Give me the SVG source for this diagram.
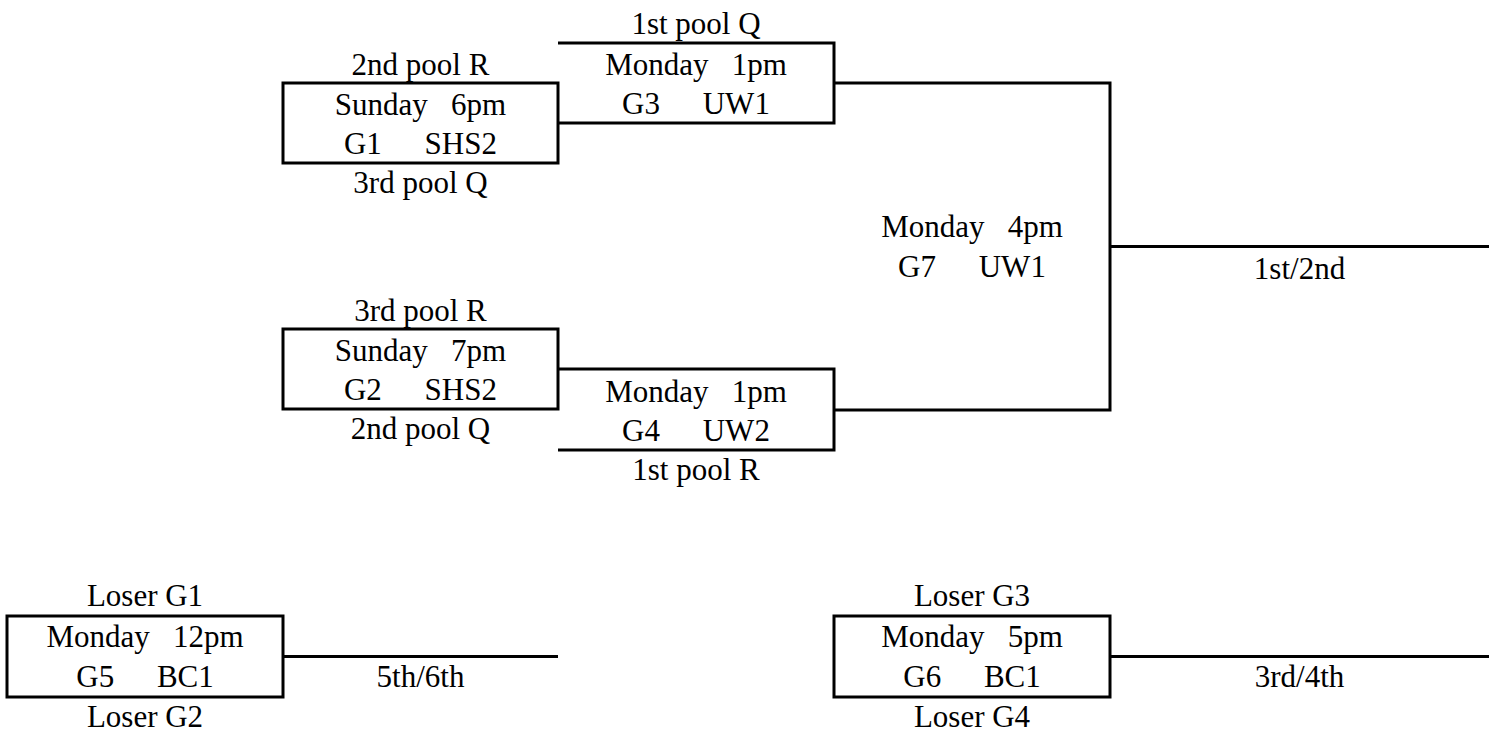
<svg xmlns="http://www.w3.org/2000/svg" width="1489" height="734" viewBox="0 0 1489 734">
<style>
  .box { fill: none; stroke: #000; stroke-width: 3; }
  .ln { fill: none; stroke: #000; stroke-width: 3; }
  text { font-family: "Liberation Serif", "Times New Roman", serif; font-size: 31px; fill: #000; text-anchor: middle; white-space: pre; }
  .t2 { word-spacing: 0.8px; }
</style>
<rect width="1489" height="734" fill="#fff"/>
<g id="connectors">
  <path class="ln" d="M834,83 H1110 V410 H834"/>
  <path class="ln" d="M1110,246.5 H1489"/>
  <path class="ln" d="M283,656.5 H558"/>
  <path class="ln" d="M1110,656.5 H1489"/>
</g>
<g id="G1">
  <rect class="box" x="283" y="83" width="275" height="80"/>
  <text x="420.5" y="75">2nd pool R</text>
  <text x="420.5" y="115" xml:space="preserve">Sunday   6pm</text>
  <text class="t2" x="420.5" y="154" xml:space="preserve">G1     SHS2</text>
  <text x="420.5" y="193">3rd pool Q</text>
</g>
<g id="G3">
  <path class="box" d="M558,43 H834 V123 H558"/>
  <text x="696" y="34">1st pool Q</text>
  <text x="696" y="75" xml:space="preserve">Monday   1pm</text>
  <text class="t2" x="696" y="114" xml:space="preserve">G3     UW1</text>
</g>
<g id="G2">
  <rect class="box" x="283" y="329" width="275" height="80"/>
  <text x="420.5" y="321">3rd pool R</text>
  <text x="420.5" y="361" xml:space="preserve">Sunday   7pm</text>
  <text class="t2" x="420.5" y="400" xml:space="preserve">G2     SHS2</text>
  <text x="420.5" y="439">2nd pool Q</text>
</g>
<g id="G4">
  <path class="box" d="M558,369 H834 V450 H558"/>
  <text x="696" y="402" xml:space="preserve">Monday   1pm</text>
  <text class="t2" x="696" y="441" xml:space="preserve">G4     UW2</text>
  <text x="696" y="480">1st pool R</text>
</g>
<g id="G7">
  <text x="972" y="237" xml:space="preserve">Monday   4pm</text>
  <text class="t2" x="972" y="277" xml:space="preserve">G7     UW1</text>
  <text x="1299.5" y="279">1st/2nd</text>
</g>
<g id="G5">
  <rect class="box" x="7" y="616" width="276" height="81"/>
  <text x="145" y="606">Loser G1</text>
  <text x="145" y="647" xml:space="preserve">Monday   12pm</text>
  <text class="t2" x="145" y="687" xml:space="preserve">G5     BC1</text>
  <text x="145" y="727">Loser G2</text>
  <text x="420.5" y="687">5th/6th</text>
</g>
<g id="G6">
  <rect class="box" x="834" y="616" width="276" height="81"/>
  <text x="972" y="606">Loser G3</text>
  <text x="972" y="647" xml:space="preserve">Monday   5pm</text>
  <text class="t2" x="972" y="687" xml:space="preserve">G6     BC1</text>
  <text x="972" y="727">Loser G4</text>
  <text x="1299.5" y="687">3rd/4th</text>
</g>
</svg>
